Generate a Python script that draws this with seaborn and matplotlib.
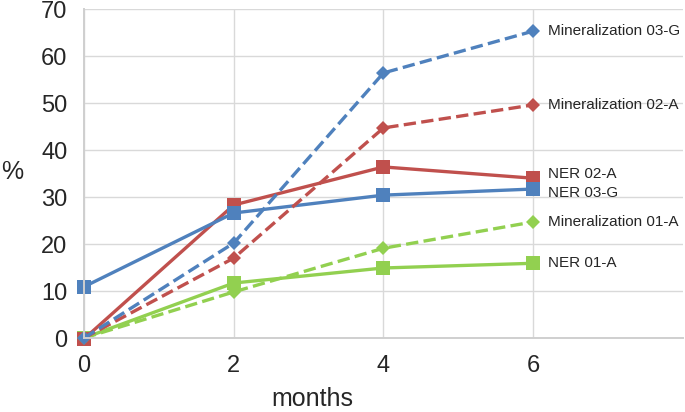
import pandas as pd
import matplotlib
matplotlib.use("Agg")
import matplotlib.pyplot as plt
import seaborn as sns

# values
months = [0, 2, 4, 6]
ner_01a = [0, 11.7, 14.9, 15.9]
ner_02a = [-0.2, 28.3, 36.4, 34.0]
ner_03g = [10.9, 26.6, 30.4, 31.7]
min_01a = [0, 9.8, 19.1, 24.7]
min_02a = [0, 17.0, 44.7, 49.6]
min_03g = [0, 20.2, 56.4, 65.3]

blue = '#4F81BD'
red = '#C0504D'
green = '#92D050'

series = [
    ('NER 01-A', ner_01a, green, '-', 's', 0),
    ('NER 02-A', ner_02a, red, '-', 's', 0.9),
    ('NER 03-G', ner_03g, blue, '-', 's', -0.9),
    ('Mineralization 01-A', min_01a, green, '--', 'D', 0),
    ('Mineralization 02-A', min_02a, red, '--', 'D', 0),
    ('Mineralization 03-G', min_03g, blue, '--', 'D', 0),
]

sns.set_style('white')
plt.rcParams['font.family'] = ['Liberation Sans', 'DejaVu Sans']

fig = plt.figure(figsize=(6.85, 4.12), dpi=100)
ax = fig.add_axes([0.1226, 0.1796, 0.8744, 0.7985])

for name, vals, col, ls, mk, dy in series:
    df = pd.DataFrame({'months': months, 'pct': vals})
    ms = 9.5 if mk == 's' else 7
    sns.lineplot(data=df, x='months', y='pct', ax=ax, color=col,
                 linestyle=ls, marker=mk, markersize=ms, linewidth=2.4,
                 markeredgewidth=0, clip_on=False)
    ax.text(6.2, vals[-1] + dy, name, fontsize=11, va='center', ha='left')

ax.set_xlim(0, 8)
ax.set_ylim(0, 70)
ax.set_xticks([0, 2, 4, 6])
ax.set_yticks(range(0, 71, 10))
ax.grid(True, color='#D9D9D9', linewidth=1)
ax.set_axisbelow(True)
for s in ['top', 'right']:
    ax.spines[s].set_visible(False)
for s in ['left', 'bottom']:
    ax.spines[s].set_color('#CFCFCF')
    ax.spines[s].set_linewidth(1.4)
ax.tick_params(axis='y', length=0, labelsize=17, pad=12)
ax.tick_params(axis='x', length=0, labelsize=17, pad=12)
ax.set_xlabel('months', fontsize=18, va='center')
ax.xaxis.set_label_coords(0.382, -0.185)
ax.set_ylabel('%', fontsize=18, rotation=0, va='center')
ax.yaxis.set_label_coords(-0.12, 0.505)

fig.savefig('out.png', dpi=100)
